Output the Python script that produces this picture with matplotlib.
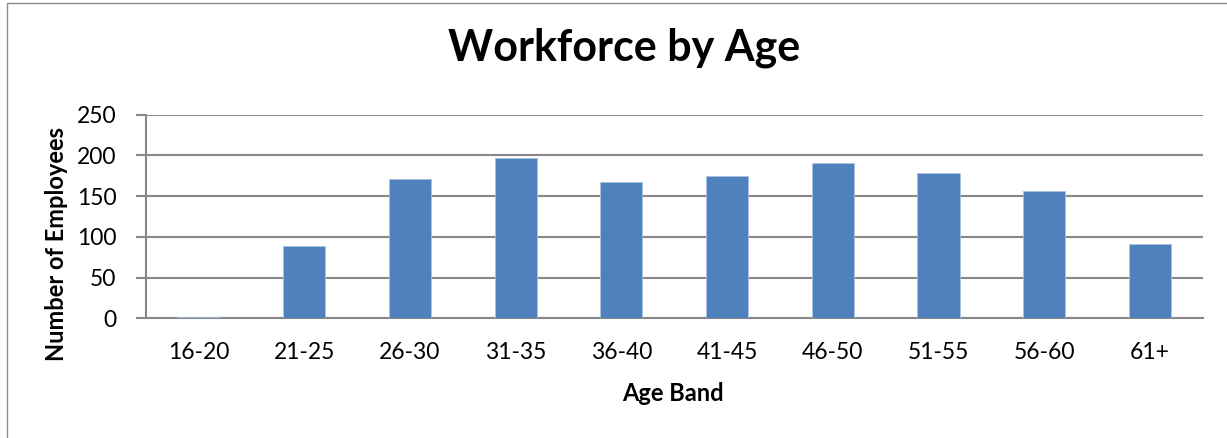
import matplotlib
matplotlib.use('Agg')
import matplotlib.pyplot as plt
from matplotlib.patches import Rectangle

plt.rcParams['font.family'] = ['Lato', 'DejaVu Sans']

# workforce headcount per age band
age_bands = ['16-20', '21-25', '26-30', '31-35', '36-40',
             '41-45', '46-50', '51-55', '56-60', '61+']
employees = [2, 89, 171, 197, 167, 175, 191, 178, 156, 91]

W, H = 1227, 438
fig = plt.figure(figsize=(W / 100, H / 100), dpi=100)

# chart border (runs off the right/bottom edge)
fig.patches.append(Rectangle((7 / W, -0.2), 1.5, 1.2 - 2.5 / H, transform=fig.transFigure,
                             fill=False, edgecolor='#8c8c8c', linewidth=1.0))

ax = fig.add_axes([145.7 / W, 1 - 318.3 / H, (1202.7 - 145.7) / W, (318.3 - 114.7) / H])

x = range(len(age_bands))
ax.bar(x, employees, width=0.4, color='#4F81BD', edgecolor='#a9c2e0',
       linewidth=0.6, zorder=3)

ax.set_xlim(-0.5, len(age_bands) - 0.5)
ax.set_ylim(0, 250)
ax.set_yticks(range(0, 251, 50))
ax.set_xticks(list(x))
ax.set_xticklabels(age_bands)

ax.yaxis.grid(True, color='#888888', linewidth=1.5, zorder=0)
ax.set_axisbelow(True)
for s in ['top', 'right']:
    ax.spines[s].set_visible(False)
for s in ['left', 'bottom']:
    ax.spines[s].set_color('#888888')
    ax.spines[s].set_linewidth(1.5)

ax.tick_params(axis='y', length=7, width=1.5, color='#888888', labelsize=16.5, pad=14)
ax.tick_params(axis='x', length=0, labelsize=16.5, pad=17)

fig.text(624 / W, 1 - 61 / H, 'Workforce by Age', ha='center', va='baseline',
         fontsize=31, fontweight='bold')
fig.text(673 / W, 1 - 400.7 / H, 'Age Band', ha='center', va='baseline',
         fontsize=17, fontweight='bold')
fig.text(57 / W, 1 - 244 / H, 'Number of Employees', ha='center', va='center',
         rotation=90, fontsize=17, fontweight='bold')

fig.savefig('out.png', dpi=100, facecolor='white')
